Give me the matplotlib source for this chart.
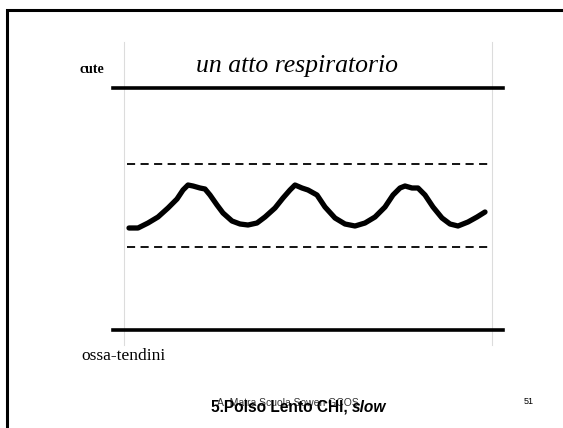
import matplotlib.pyplot as plt

# pulse trace, slide pixel units (x to the right, y downward)
curve_x = [129, 138, 148, 158, 168, 177, 183, 188, 193, 200, 205, 210, 217, 223, 232,
           240, 248, 257, 265, 275, 283, 290, 295, 302, 308, 317, 325, 335, 345, 355,
           365, 375, 385, 393, 400, 405, 412, 418, 425, 433, 442, 450, 458, 468, 477, 485]
curve_y = [228, 228, 223, 217, 208, 199, 190, 185, 186, 188, 189, 195, 205, 213, 221,
           224, 225, 223, 217, 208, 198, 190, 185, 188, 190, 195, 207, 218, 224, 226,
           223, 217, 207, 195, 188, 186, 188, 188, 195, 207, 218, 224, 226, 222, 217, 212]

skin_y = 88          # "cute"
bone_y = 330         # "ossa-tendini"
dash_top_y = 164
dash_bot_y = 247

serif = ["Liberation Serif", "DejaVu Serif"]
sans = ["Liberation Sans", "DejaVu Sans"]

fig = plt.figure(figsize=(5.63, 4.28), dpi=100)
ax = fig.add_axes([0, 0, 1, 1])
ax.set_xlim(0, 563)
ax.set_ylim(428, 0)
ax.axis("off")

# slide frame (left and top edge only)
ax.plot([7, 7, 563], [428, 10, 10], color="black", lw=2.2, solid_joinstyle="miter")

# faint guides of the scanned figure
for gx in (124, 492):
    ax.plot([gx, gx], [42, 345], color="#dcdcdc", lw=0.8)

ax.plot([113, 503], [skin_y, skin_y], color="black", lw=2.6)
ax.plot([113, 503], [bone_y, bone_y], color="black", lw=2.6)
ax.plot([127, 489], [dash_top_y, dash_top_y], color="black", lw=1.3, ls=(0, (4.5, 3)))
ax.plot([127, 489], [dash_bot_y, dash_bot_y], color="black", lw=1.3, ls=(0, (4.5, 3)))

ax.plot(curve_x, curve_y, color="black", lw=3.8, solid_capstyle="round",
        solid_joinstyle="round")

ax.text(80, 69, "cute", family=serif, weight="bold", fontsize=10, va="center", ha="left")
ax.text(297, 66, "un atto respiratorio", family=serif, style="italic", fontsize=18.5,
        va="center", ha="center")
ax.text(81, 356, "ossa-tendini", family=serif, fontsize=12.5, va="center", ha="left")

ax.text(288, 403, "A. Matra Scuola Sowen GCOS", family=sans, fontsize=7.5,
        va="center", ha="center", color="#333333")
ax.text(352, 407, "5.Polso Lento CHI, ", family=sans, weight="bold", fontsize=11.2,
        va="center", ha="right")
ax.text(352, 407, "slow", family=sans, weight="bold", style="italic", fontsize=11.2,
        va="center", ha="left")
ax.text(529, 402, "51", family=sans, fontsize=6.5, va="center", ha="center")

fig.savefig("out.png", dpi=100)
